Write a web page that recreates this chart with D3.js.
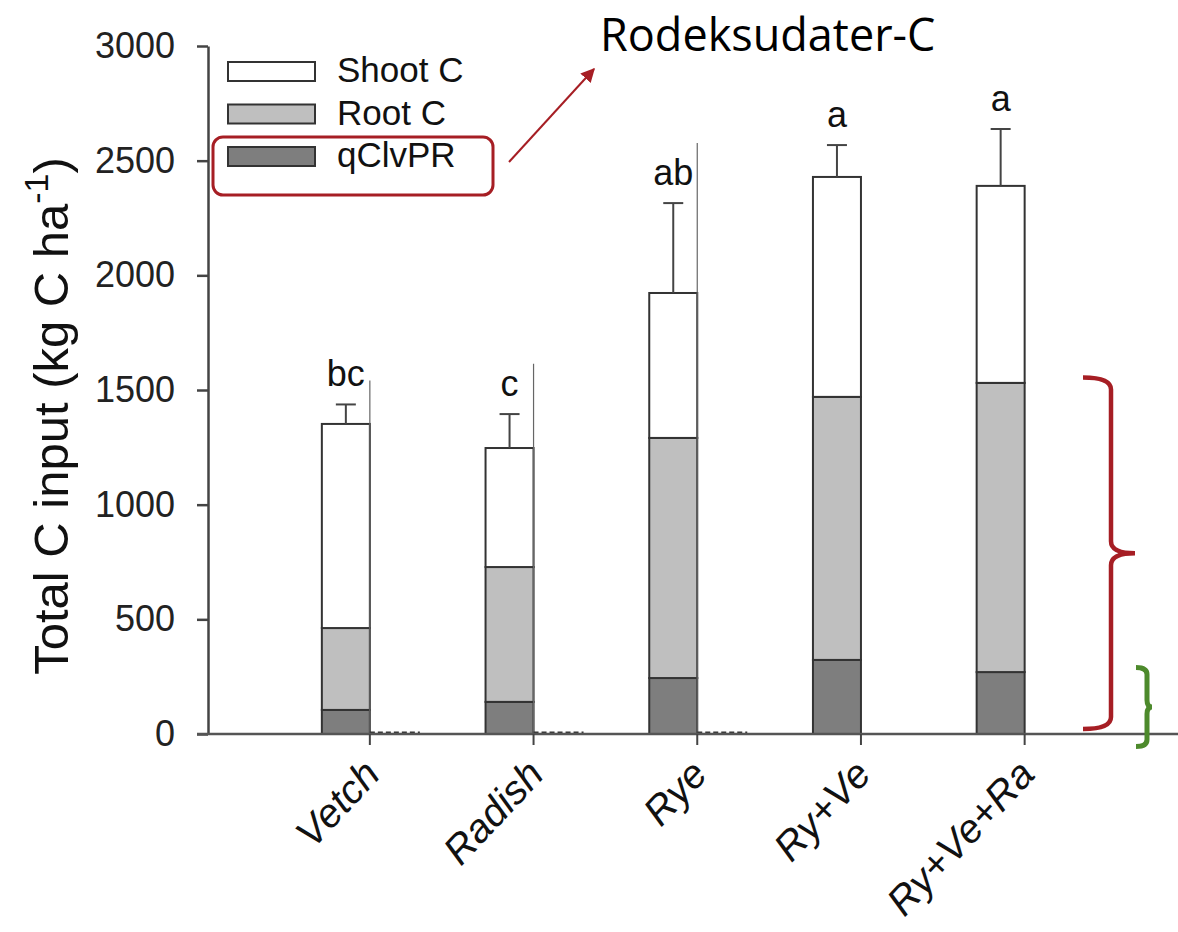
<!DOCTYPE html>
<html lang="en">

<head>
    <title>Total C input</title>
    <meta charset="utf-8">
    <script src="https://d3js.org/d3.v7.min.js"></script>
    <style>
        html, body { margin: 0; padding: 0; background: #fff; }
        svg { display: block; }
    </style>
</head>

<body>
    <div id="container1"></div>
    <script>
        // Data (kg C ha-1)
        const categories = ["Vetch", "Radish", "Rye", "Ry+Ve", "Ry+Ve+Ra"];
        const qClvPR = [105, 140, 244, 323, 270];
        const rootC = [357, 588, 1047, 1147, 1261];
        const shootC = [890, 519, 632, 959, 859];
        const stdErr = [85, 148, 392, 139, 248];
        const letters = ["bc", "c", "ab", "a", "a"];
        // leftover edge lines of the removed neighbour bars (first three groups)
        const edgeTops = [1541, 1615, 2577];
        const yTicks = [0, 500, 1000, 1500, 2000, 2500, 3000];
        const seriesKeys = ["qClvPR", "Root C", "Shoot C"];
        const legendKeys = ["Shoot C", "Root C", "qClvPR"];

        // Chart dimensions
        const W = 1178, H = 932;
        const axisX = 208;
        const y0px = 734, y1px = 46;
        const barW = 48;

        const svg = d3.select("#container1")
            .append("svg")
            .attr("width", W)
            .attr("height", H)
            .style("font-family", "'Liberation Sans', Arial, sans-serif");

        // Table for the stack
        const table = categories.map((c, i) => ({
            cat: c,
            "qClvPR": qClvPR[i],
            "Root C": rootC[i],
            "Shoot C": shootC[i]
        }));
        const stacked = d3.stack().keys(seriesKeys)(table);

        // Scales
        const xScale = d3.scaleBand()
            .domain(categories)
            .range([288, 288 + 5 * 163.7])
            .padding(0);
        const xc = c => xScale(c) + xScale.bandwidth() / 2;

        const yScale = d3.scaleLinear()
            .domain([0, 3000])
            .range([y0px, y1px]);

        const colorScale = d3.scaleOrdinal()
            .domain(seriesKeys)
            .range(["#7e7e7e", "#bfbfbf", "#ffffff"]);

        // Bars
        svg.append("g")
            .selectAll("g")
            .data(stacked)
            .join("g")
            .attr("fill", d => colorScale(d.key))
            .selectAll("rect")
            .data(d => d)
            .join("rect")
            .attr("x", d => xc(d.data.cat) - barW)
            .attr("y", d => yScale(d[1]))
            .attr("width", barW)
            .attr("height", d => yScale(d[0]) - yScale(d[1]))
            .attr("stroke", "#333")
            .attr("stroke-width", 2);

        // Remnant edge lines and dashed zero bars
        edgeTops.forEach((t, i) => {
            const cx = xc(categories[i]);
            svg.append("line")
                .attr("x1", cx).attr("x2", cx)
                .attr("y1", yScale(0)).attr("y2", yScale(t))
                .attr("stroke", "#666")
                .attr("stroke-width", 1.2);
            svg.append("line")
                .attr("x1", cx).attr("x2", cx + 50)
                .attr("y1", yScale(0) - 1.5).attr("y2", yScale(0) - 1.5)
                .attr("stroke", "#333")
                .attr("stroke-width", 2)
                .attr("stroke-dasharray", "5,3");
        });

        // Error bars
        categories.forEach((c, i) => {
            const total = qClvPR[i] + rootC[i] + shootC[i];
            const bx = xc(c) - barW / 2;
            const g = svg.append("g")
                .attr("stroke", "#444")
                .attr("stroke-width", 2);
            g.append("line")
                .attr("x1", bx).attr("x2", bx)
                .attr("y1", yScale(total)).attr("y2", yScale(total + stdErr[i]));
            g.append("line")
                .attr("x1", bx - 10).attr("x2", bx + 10)
                .attr("y1", yScale(total + stdErr[i])).attr("y2", yScale(total + stdErr[i]));
            svg.append("text")
                .attr("x", bx)
                .attr("y", yScale(total + stdErr[i]) - 18)
                .attr("text-anchor", "middle")
                .style("font-size", "36px")
                .attr("fill", "#111")
                .text(letters[i]);
        });

        // Y axis
        const yAxis = svg.append("g")
            .attr("transform", `translate(${axisX},0)`)
            .call(d3.axisLeft(yScale).tickValues(yTicks).tickFormat(d3.format("d"))
                .tickSize(11).tickSizeOuter(0).tickPadding(22));
        yAxis.select(".domain").attr("stroke", "#444").attr("stroke-width", 2.5);
        yAxis.selectAll(".tick line").attr("stroke", "#444").attr("stroke-width", 2.5);
        yAxis.selectAll("text")
            .style("font-size", "36px")
            .style("font-family", "'Liberation Sans', Arial, sans-serif")
            .attr("fill", "#222");

        // X axis
        svg.append("line")
            .attr("x1", axisX - 11).attr("x2", W)
            .attr("y1", y0px).attr("y2", y0px)
            .attr("stroke", "#555")
            .attr("stroke-width", 2.5);
        const xAxis = svg.append("g")
            .attr("transform", `translate(0,${y0px})`)
            .call(d3.axisBottom(xScale).tickSize(11).tickSizeOuter(0));
        xAxis.select(".domain").remove();
        xAxis.selectAll(".tick line").attr("stroke", "#444").attr("stroke-width", 2);
        xAxis.selectAll("text")
            .style("font-size", "40px")
            .style("font-family", "'Liberation Sans', Arial, sans-serif")
            .style("font-style", "italic")
            .attr("fill", "#111")
            .attr("text-anchor", "end")
            .attr("dy", 0)
            .attr("y", 0)
            .attr("transform", "translate(12,42) rotate(-47)");

        // Y axis title
        const yTitle = svg.append("text")
            .attr("transform", `translate(68,${(y0px + y1px) / 2 + 26}) rotate(-90)`)
            .attr("text-anchor", "middle")
            .style("font-size", "49px")
            .attr("fill", "#111");
        yTitle.append("tspan").text("Total C input (kg C ha");
        yTitle.append("tspan").attr("dy", -20).style("font-size", "34px").text("-1");
        yTitle.append("tspan").attr("dy", 20).text(")");

        // Legend
        const legend = svg.append("g");
        legendKeys.forEach((k, i) => {
            const ly = 62 + i * 42.5;
            legend.append("rect")
                .attr("x", 228).attr("y", ly)
                .attr("width", 87).attr("height", 19)
                .attr("fill", colorScale(k))
                .attr("stroke", "#333")
                .attr("stroke-width", 2);
            legend.append("text")
                .attr("x", 337).attr("y", ly + 20)
                .style("font-size", "35px")
                .attr("fill", "#111")
                .text(k);
        });

        // Annotations
        const red = "#a61e24";
        svg.append("rect")
            .attr("x", 213).attr("y", 137)
            .attr("width", 280).attr("height", 58)
            .attr("rx", 10)
            .attr("fill", "none")
            .attr("stroke", red)
            .attr("stroke-width", 3);

        svg.append("defs").append("marker")
            .attr("id", "arrow")
            .attr("viewBox", "0 0 10 10")
            .attr("refX", 9).attr("refY", 5)
            .attr("markerWidth", 7).attr("markerHeight", 7)
            .attr("orient", "auto")
            .append("path")
            .attr("d", "M0,0 L10,5 L0,10 z")
            .attr("fill", red);
        svg.append("line")
            .attr("x1", 509).attr("y1", 162)
            .attr("x2", 594).attr("y2", 69)
            .attr("stroke", red)
            .attr("stroke-width", 2)
            .attr("marker-end", "url(#arrow)");

        svg.append("text")
            .attr("x", 600).attr("y", 51)
            .style("font-family", "'Open Sans', 'Noto Sans', sans-serif")
            .style("font-size", "45px")
            .attr("fill", "#000")
            .text("Rodeksudater-C");

        // Curly brackets
        function brace(top, bot, xl, xr, nub, r) {
            const mid = (top + bot) / 2;
            return `M${xl},${top} Q${xr},${top} ${xr},${top + r} L${xr},${mid - r}` +
                ` Q${xr},${mid} ${nub},${mid} Q${xr},${mid} ${xr},${mid + r}` +
                ` L${xr},${bot - r} Q${xr},${bot} ${xl},${bot}`;
        }
        svg.append("path")
            .attr("d", brace(yScale(1555), yScale(22), 1083, 1111, 1135, 12))
            .attr("fill", "none")
            .attr("stroke", red)
            .attr("stroke-width", 4.5);
        svg.append("path")
            .attr("d", brace(yScale(290), yScale(-55), 1136, 1147, 1152, 7))
            .attr("fill", "none")
            .attr("stroke", "#4d8a2c")
            .attr("stroke-width", 5);
    </script>
</body>

</html>
